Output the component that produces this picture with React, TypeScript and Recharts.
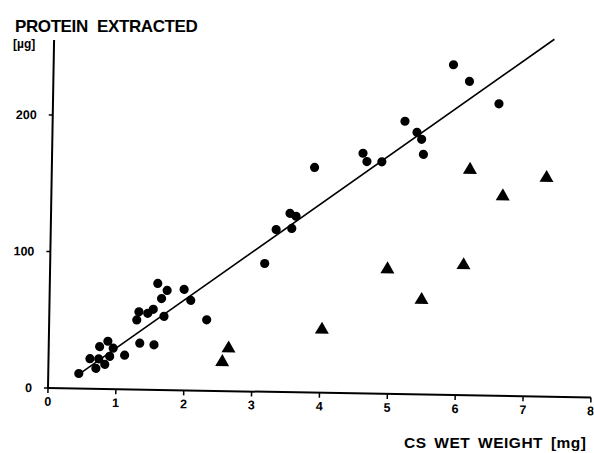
import React from 'react';
import { ScatterChart, Scatter, XAxis, YAxis, ReferenceLine } from 'recharts';

// filled circles
const circleX = [
  0.45, 0.61, 0.7, 0.75, 0.74, 0.87, 0.83, 0.95, 0.9, 1.12, 1.29, 1.32, 1.34, 1.45, 1.53, 1.55, 1.59, 1.65,
  1.73, 1.69, 1.98, 2.08, 2.32, 3.16, 3.32, 3.52, 3.61, 3.55, 3.87, 4.58, 4.64, 4.86, 5.19, 5.37, 5.44, 5.47,
  5.89, 6.13, 6.57,
];
const circleY = [
  11, 22, 15, 31, 22, 35, 18, 30, 24, 25, 51, 57, 34, 56, 59, 33, 78, 67, 73, 54, 74, 66, 52, 94, 119, 131, 129,
  120, 165, 176, 170, 170, 200, 192, 187, 176, 242, 230, 214,
];

// filled triangles
const triangleX = [2.56, 2.65, 4.02, 4.97, 5.48, 6.09, 6.16, 6.65, 7.29];
const triangleY = [22, 32, 47, 92, 70, 96, 166, 147, 161];

// regression line end points
const fitX = [0.44, 7.37];
const fitY = [10, 262];

const xTicks = [0, 1, 2, 3, 4, 5, 6, 7, 8];
const yTicks = [0, 100, 200];

const circles = circleX.map((x, i) => ({ x, y: circleY[i] }));
const triangles = triangleX.map((x, i) => ({ x, y: triangleY[i] }));

const FONT = '"Liberation Sans", Arial, sans-serif';
const tickStyle = { fill: '#000', fontSize: 12.5, fontWeight: 700, fontFamily: FONT };

const Dot = (props: any) => <circle cx={props.cx} cy={props.cy} r={4.6} fill="#000" />;

const Tri = (props: any) => {
  const { cx, cy } = props;
  return <path d={`M${cx},${cy - 7}L${cx + 7},${cy + 5}L${cx - 7},${cy + 5}Z`} fill="#000" />;
};

export default function App() {
  return (
    <div style={{ position: 'absolute', left: 0, top: 0, width: 594, height: 453, background: '#fff' }}>
      <div style={{ transform: 'rotate(1deg)', transformOrigin: '48px 388px' }}>
        <ScatterChart width={594} height={453} margin={{ top: 40, right: 3, bottom: 35, left: 0 }}>
          <XAxis
            type="number"
            dataKey="x"
            domain={[0, 8]}
            ticks={xTicks}
            tick={tickStyle}
            tickSize={5}
            tickMargin={4}
            height={30}
            axisLine={{ stroke: '#000', strokeWidth: 2 }}
            tickLine={{ stroke: '#000', strokeWidth: 1.5 }}
          />
          <YAxis
            type="number"
            dataKey="y"
            domain={[0, 255]}
            allowDataOverflow
            ticks={yTicks}
            tick={tickStyle}
            tickSize={4}
            tickMargin={12}
            width={48}
            axisLine={{ stroke: '#000', strokeWidth: 2 }}
            tickLine={{ stroke: '#000', strokeWidth: 1.5 }}
          />
          <ReferenceLine
            segment={[
              { x: fitX[0], y: fitY[0] },
              { x: fitX[1], y: fitY[1] },
            ]}
            stroke="#000"
            strokeWidth={1.6}
            ifOverflow="visible"
          />
          <Scatter data={circles} shape={Dot} isAnimationActive={false} />
          <Scatter data={triangles} shape={Tri} isAnimationActive={false} />
        </ScatterChart>
      </div>
      <svg
        width={594}
        height={453}
        style={{ position: 'absolute', left: 0, top: 0, pointerEvents: 'none' }}
      >
        <text
          x={15}
          y={32}
          fontFamily={FONT}
          fontWeight={700}
          fontSize={17}
          letterSpacing={-0.4}
          wordSpacing={5}
          fill="#000"
        >
          PROTEIN EXTRACTED
        </text>
        <text x={13} y={48} fontFamily={FONT} fontWeight={700} fontSize={12} fill="#000">
          [µg]
        </text>
        <text
          x={404}
          y={448}
          fontFamily={FONT}
          fontWeight={700}
          fontSize={15.5}
          letterSpacing={0.5}
          wordSpacing={3}
          fill="#000"
        >
          CS WET WEIGHT [mg]
        </text>
      </svg>
    </div>
  );
}
